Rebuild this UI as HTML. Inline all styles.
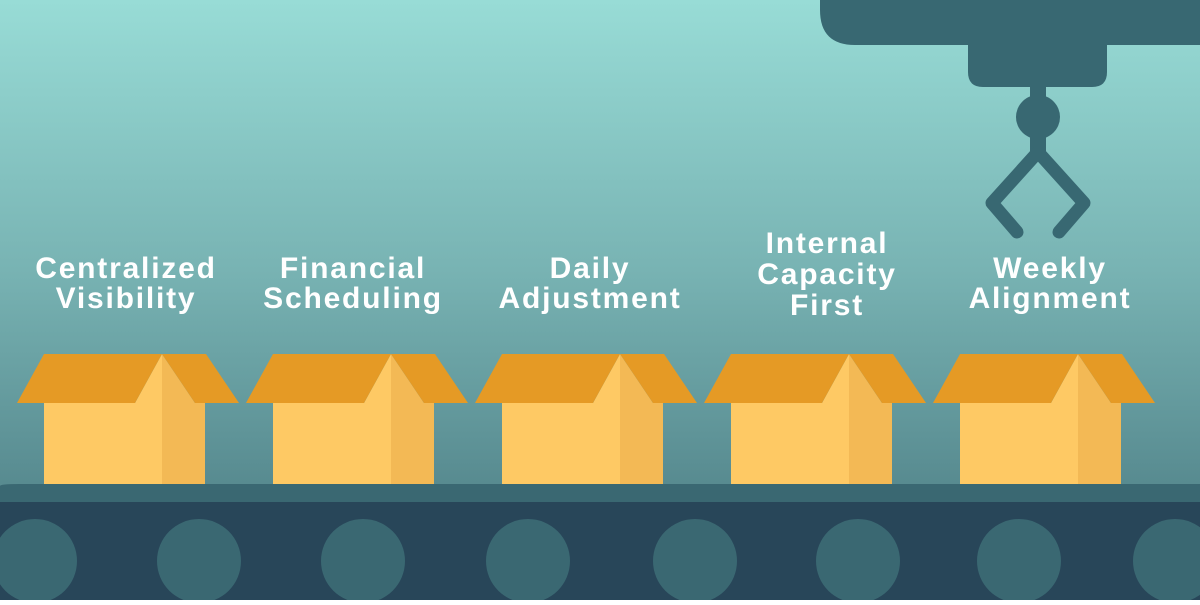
<!DOCTYPE html>
<html><head><style>
html,body{margin:0;padding:0}
body{width:1200px;height:600px;overflow:hidden}
</style></head><body>
<svg width="1200" height="600" viewBox="0 0 1200 600" xmlns="http://www.w3.org/2000/svg">
<defs>
<linearGradient id="bg" x1="0" y1="0" x2="0" y2="1">
<stop offset="0" stop-color="#98dcd6"/>
<stop offset="0.45" stop-color="#78b3b3"/>
<stop offset="1" stop-color="#46757d"/>
</linearGradient>
<g id="box">
<polygon points="44,403 135,403 162,354 162,485 44,485" fill="#fec964"/>
<polygon points="162,354 195,403 205,403 205,485 162,485" fill="#f3b955"/>
<polygon points="17,403 44,354 162,354 135,403" fill="#e59a25"/>
<polygon points="162,354 206,354 239,403 195,403" fill="#e59a25"/>
</g>
</defs>
<rect width="1200" height="600" fill="url(#bg)"/>
<use href="#box"/>
<use href="#box" x="229"/>
<use href="#box" x="458"/>
<use href="#box" x="687"/>
<use href="#box" x="916"/>
<path d="M0,486 Q0,484 20,484 L1200,484 L1200,600 L0,600 Z" fill="#3a6872"/>
<path d="M0,502 Q0,502 20,502 L1200,502 L1200,600 L0,600 Z" fill="#284659"/>
<g fill="#3a6872">
<circle cx="35" cy="561" r="42"/><circle cx="199" cy="561" r="42"/><circle cx="363" cy="561" r="42"/><circle cx="528" cy="561" r="42"/><circle cx="695" cy="561" r="42"/><circle cx="858" cy="561" r="42"/><circle cx="1019" cy="561" r="42"/><circle cx="1175" cy="561" r="42"/>
</g>
<g fill="#386872">
<path d="M820,0 L1200,0 L1200,45 L855,45 Q820,45 820,10 Z"/>
<path d="M968,44 L1107,44 L1107,72 Q1107,87 1092,87 L983,87 Q968,87 968,72 Z"/>
<rect x="1030" y="85" width="16" height="70"/>
<ellipse cx="1038" cy="117" rx="22" ry="22"/>
</g>
<g stroke="#386872" stroke-width="13" stroke-linecap="round" stroke-linejoin="round" fill="none">
<polyline points="1017,232 992,203 1038,152 1084,203 1059,232"/>
</g>
<g fill="#fff" font-family="'Liberation Sans',sans-serif" font-weight="bold" font-size="30" letter-spacing="1.8" text-anchor="middle">
<text x="126" y="278">Centralized</text><text x="126" y="308">Visibility</text>
<text x="353" y="278">Financial</text><text x="353" y="308">Scheduling</text>
<text x="590" y="278">Daily</text><text x="590" y="308">Adjustment</text>
<text x="827" y="253">Internal</text><text x="827" y="284">Capacity</text><text x="827" y="315">First</text>
<text x="1050" y="278">Weekly</text><text x="1050" y="308">Alignment</text>
</g>
</svg>
</body></html>
